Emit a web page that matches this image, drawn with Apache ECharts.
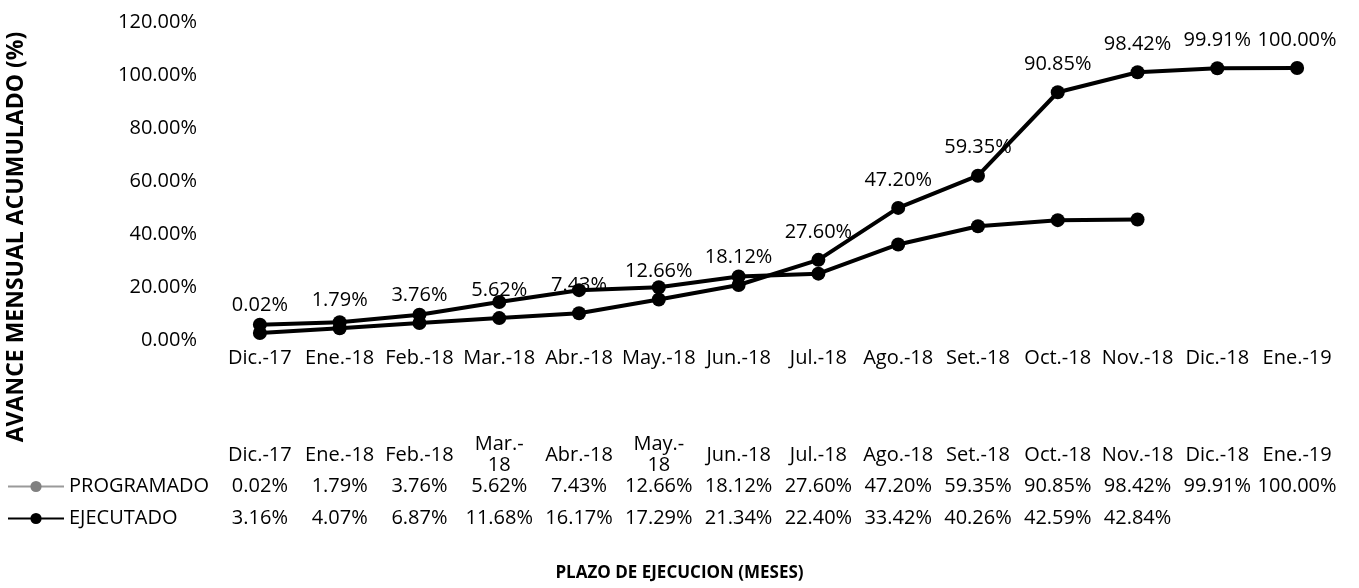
<!DOCTYPE html>
<html>
<head>
<meta charset="utf-8">
<script src="https://cdn.jsdelivr.net/npm/echarts@6/dist/echarts.min.js"></script>
<style>
  html, body { margin: 0; padding: 0; background: #fff; }
  #chart { width: 1359px; height: 588px; }
</style>
</head>
<body>
<div id="chart"></div>
<script>
// Months of the execution period
const categories = ['Dic.-17', 'Ene.-18', 'Feb.-18', 'Mar.-18', 'Abr.-18', 'May.-18', 'Jun.-18',
  'Jul.-18', 'Ago.-18', 'Set.-18', 'Oct.-18', 'Nov.-18', 'Dic.-18', 'Ene.-19'];
// Column headers of the data table (two of them wrap)
const tableHeaders = ['Dic.-17', 'Ene.-18', 'Feb.-18', 'Mar.-\n18', 'Abr.-18', 'May.-\n18', 'Jun.-18',
  'Jul.-18', 'Ago.-18', 'Set.-18', 'Oct.-18', 'Nov.-18', 'Dic.-18', 'Ene.-19'];
// Cumulative progress, percent
const programado = [0.02, 1.79, 3.76, 5.62, 7.43, 12.66, 18.12, 27.60, 47.20, 59.35, 90.85, 98.42, 99.91, 100.00];
const ejecutado = [3.16, 4.07, 6.87, 11.68, 16.17, 17.29, 21.34, 22.40, 33.42, 40.26, 42.59, 42.84, null, null];
// Y axis ticks
const yTicks = { min: 0, max: 120, interval: 20 };

const FONT = '"Open Sans", sans-serif';
const TXT = '#000';
const pct = v => (v === null || v === undefined) ? '' : Number(v).toFixed(2) + '%';

const chart = echarts.init(document.getElementById('chart'), null, { renderer: 'canvas' });

// Hidden-line category axes stacked under the plot: month row plus a data table
function tableAxis(margin, formatter) {
  return {
    type: 'category',
    data: categories,
    position: 'bottom',
    gridIndex: 0,
    boundaryGap: true,
    axisLine: { show: false },
    axisTick: { show: false },
    splitLine: { show: false },
    axisLabel: {
      interval: 0,
      margin: margin,
      verticalAlign: 'middle',
      align: 'center',
      fontFamily: FONT,
      fontSize: 20,
      lineHeight: 21,
      color: TXT,
      formatter: formatter
    }
  };
}

const option = {
  animation: false,
  backgroundColor: '#fff',
  grid: { left: 220, right: 22, top: 15, bottom: 255, containLabel: false },
  title: {
    text: 'PLAZO DE EJECUCION (MESES)',
    left: 'center',
    top: 560,
    textStyle: { fontFamily: FONT, fontSize: 17, fontWeight: 'bold', color: TXT }
  },
  legend: {
    orient: 'vertical',
    left: 7,
    top: 476,
    padding: 0,
    itemWidth: 56,
    itemHeight: 14,
    itemGap: 11,
    textStyle: { fontFamily: FONT, fontSize: 20, lineHeight: 21, color: TXT },
    data: [
      { name: 'PROGRAMADO', itemStyle: { color: '#808080' }, lineStyle: { color: '#9a9a9a' } },
      { name: 'EJECUTADO' }
    ]
  },
  xAxis: [
    tableAxis(25, (v, i) => categories[i]),
    tableAxis(122, (v, i) => tableHeaders[i]),
    tableAxis(153, (v, i) => pct(programado[i])),
    tableAxis(185, (v, i) => pct(ejecutado[i]))
  ],
  yAxis: {
    type: 'value',
    min: yTicks.min,
    max: yTicks.max,
    interval: yTicks.interval,
    axisLine: { show: false },
    axisTick: { show: false },
    splitLine: { show: false },
    axisLabel: {
      margin: 23,
      fontFamily: FONT,
      fontSize: 20,
      lineHeight: 14,
      color: TXT,
      verticalAlign: 'top',
      formatter: v => pct(v)
    }
  },
  graphic: [{
    type: 'text',
    x: 16,
    y: 237,
    rotation: Math.PI / 2,
    style: {
      text: 'AVANCE MENSUAL ACUMULADO (%)',
      fontFamily: FONT,
      fontSize: 23,
      fontWeight: 'bold',
      fill: TXT,
      align: 'center',
      verticalAlign: 'middle'
    }
  }],
  series: [
    {
      name: 'PROGRAMADO',
      type: 'line',
      xAxisIndex: 0,
      data: programado,
      symbol: 'circle',
      symbolSize: 14,
      itemStyle: { color: '#000' },
      lineStyle: { color: '#000', width: 4 },
      label: {
        show: true,
        position: 'top',
        distance: 11,
        fontFamily: FONT,
        fontSize: 20,
        color: TXT,
        formatter: p => pct(p.value)
      },
      z: 3
    },
    {
      name: 'EJECUTADO',
      type: 'line',
      xAxisIndex: 0,
      data: ejecutado,
      symbol: 'circle',
      symbolSize: 14,
      itemStyle: { color: '#000' },
      lineStyle: { color: '#000', width: 4 },
      z: 2
    }
  ]
};

chart.setOption(option);
</script>
</body>
</html>
